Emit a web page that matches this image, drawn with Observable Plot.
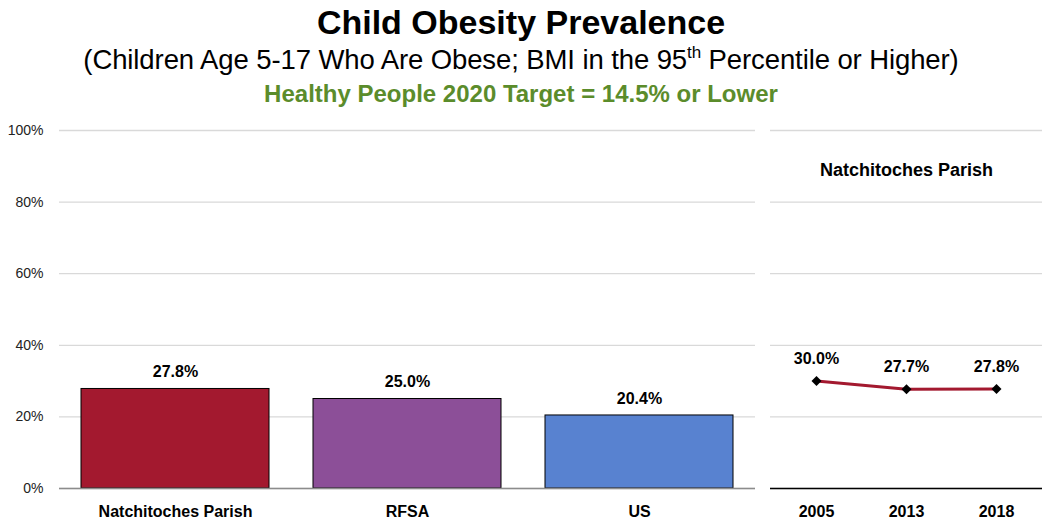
<!DOCTYPE html>
<html>
<head>
<meta charset="utf-8">
<script src="https://cdn.jsdelivr.net/npm/d3@7"></script>
<script src="https://cdn.jsdelivr.net/npm/@observablehq/plot@0.6"></script>
<style>
  html, body { margin: 0; padding: 0; background: #fff; }
  #root { position: relative; width: 1042px; height: 521px; overflow: hidden; font-family: "Liberation Sans", Arial, sans-serif; }
  .hdr { position: absolute; left: 0; width: 1042px; text-align: center; white-space: nowrap; line-height: 1; }
  #title { top: 5px; font-size: 34px; font-weight: bold; color: #000; }
  #subtitle { top: 46px; font-size: 27.5px; color: #000; letter-spacing: -0.1px; }
  #subtitle sup { font-size: 17px; vertical-align: 0; position: relative; top: -11px; }
  #target { top: 82px; font-size: 24px; font-weight: bold; color: #5B8C2B; }
  .panel { position: absolute; top: 110px; }
</style>
</head>
<body>
<div id="root">
  <div id="title" class="hdr">Child Obesity Prevalence</div>
  <div id="subtitle" class="hdr">(Children Age 5-17 Who Are Obese; BMI in the 95<sup>th</sup> Percentile or Higher)</div>
  <div id="target" class="hdr">Healthy People 2020 Target = 14.5% or Lower</div>
  <div id="left" class="panel" style="left:0px"></div>
  <div id="right" class="panel" style="left:762px"></div>
</div>
<script>
const categories = ["Natchitoches Parish", "RFSA", "US"];
const values = [27.8, 25.0, 20.4];
const barColors = ["#A3192F", "#8C4F98", "#5882D0"];
const years = ["2005", "2013", "2018"];
const trendValues = [30.0, 27.7, 27.8];
const trendTitle = "Natchitoches Parish";
const yTicks = [0, 20, 40, 60, 80, 100];

const bars = categories.map((c, i) => ({category: c, value: values[i], color: barColors[i]}));
const trend = years.map((y, i) => ({year: y, value: trendValues[i]}));
const pct = d => d.toFixed(1) + "%";
const font = {fontFamily: "'Liberation Sans', Arial, sans-serif", background: "transparent", color: "#000"};

const left = Plot.plot({
  width: 762, height: 411,
  marginLeft: 59, marginRight: 7, marginTop: 20, marginBottom: 33,
  style: font,
  color: {type: "identity"},
  x: {domain: categories, paddingInner: 0.19, paddingOuter: 0.095, label: null},
  y: {domain: [0, 100], label: null},
  marks: [
    Plot.gridY(yTicks, {stroke: "#d9d9d9", strokeOpacity: 1, strokeWidth: 1.3}),
    Plot.axisY(yTicks, {tickSize: 0, tickPadding: 16, fontSize: 14, fill: "#222", tickFormat: d => d + "%", label: null}),
    Plot.axisX({tickSize: 0, tickPadding: 17, fontSize: 16, fontWeight: "bold", fill: "#000", label: null}),
    Plot.barY(bars, {x: "category", y: "value", fill: "color", stroke: "#000", strokeWidth: 1}),
    Plot.ruleY([0], {stroke: "#8c8c8c", strokeWidth: 1.5}),
    Plot.text(bars, {x: "category", y: "value", text: d => pct(d.value), dy: -17, fontSize: 16, fontWeight: "bold", fill: "#000"})
  ]
});
document.getElementById("left").appendChild(left);

const right = Plot.plot({
  width: 280, height: 411,
  marginLeft: 8, marginRight: 0, marginTop: 20, marginBottom: 33,
  style: font,
  x: {type: "point", domain: years, padding: 0.5, label: null},
  y: {domain: [0, 100], label: null, axis: null},
  marks: [
    Plot.gridY(yTicks, {stroke: "#d9d9d9", strokeOpacity: 1, strokeWidth: 1.3}),
    Plot.axisX({tickSize: 0, tickPadding: 17, fontSize: 16, fontWeight: "bold", fill: "#000", label: null}),
    Plot.ruleY([0], {stroke: "#000", strokeWidth: 1.5}),
    Plot.line(trend, {x: "year", y: "value", stroke: "#A3192F", strokeWidth: 3}),
    Plot.dot(trend, {x: "year", y: "value", symbol: "diamond2", r: 4.5, fill: "#000", stroke: "none"}),
    Plot.text(trend, {x: "year", y: "value", text: d => pct(d.value), dy: -22, fontSize: 16, fontWeight: "bold", fill: "#000"}),
    Plot.text([trendTitle], {frameAnchor: "top", dy: 33, text: d => d, fontSize: 18, fontWeight: "bold", fill: "#000"})
  ]
});
document.getElementById("right").appendChild(right);
</script>
</body>
</html>
